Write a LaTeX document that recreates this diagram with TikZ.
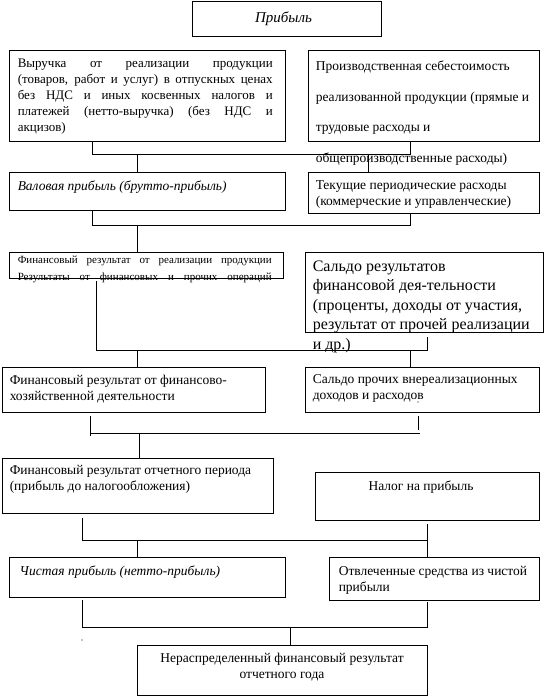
\documentclass[tikz,border=0pt]{standalone}
\usepackage{fontspec}
\setmainfont{Liberation Serif}
\usepackage{tikz}
\usetikzlibrary{positioning,fit}

\newcommand{\jline}[2]{\makebox[#1][s]{#2}}

\begin{document}
\begin{tikzpicture}[x=1pt,y=-1pt,
   blk/.style={draw, line width=0.9pt, inner sep=0pt},
   txt/.style={inner sep=0pt, align=left, font=\fontsize{13.5}{16}\selectfont},
   ln/.style={line width=0.8pt}]
   \useasboundingbox (0,0) rectangle (546,698);

   % boxes
   \node[blk, fit={(192,1) (381,36)}] (prib) {};
   \node[blk, fit={(9,50) (285,141)}] (vyr) {};
   \node[blk, fit={(308,50) (539,141)}] (seb) {};
   \node[blk, fit={(9,172) (285,210)}] (val) {};
   \node[blk, fit={(308,172) (539,213)}] (tek) {};
   \node[blk, fit={(9,252) (283,278)}] (real) {};
   \node[blk, fit={(305,252) (543,332)}] (sald) {};
   \node[blk, fit={(2,367) (265,412)}] (fhd) {};
   \node[blk, fit={(305,367) (539,412)}] (vner) {};
   \node[blk, fit={(2,458) (273,513)}] (otch) {};
   \node[blk, fit={(315,472) (539,520)}] (nalog) {};
   \node[blk, fit={(9,557) (285,597)}] (chist) {};
   \node[blk, fit={(329,557) (539,600)}] (otvl) {};
   \node[blk, fit={(137,645) (427,695)}] (neras) {};

   % texts
   \node[txt, font=\fontsize{15}{16}\selectfont\itshape, xshift=-3pt] (pribt) at (prib.center) {Прибыль};
   \node[txt, font=\fontsize{13}{16}\selectfont, below right=9pt and 9pt of vyr.north west] (vyrt)
   {\jline{255pt}{Выручка от реализации продукции}\\
    \jline{255pt}{(товаров, работ и услуг) в отпускных ценах}\\
    \jline{255pt}{без НДС и иных косвенных налогов и}\\
    \jline{255pt}{платежей (нетто-выручка) (без НДС и}\\
    акцизов)};
   \node[txt, font=\fontsize{13.5}{30.7}\selectfont, below right=11pt and 8pt of seb.north west] (sebt)
   {Производственная себестоимость\\
    реализованной продукции (прямые и\\
    трудовые расходы и\\
    общепроизводственные расходы)};
   \node[txt, font=\fontsize{13.5}{16}\selectfont\itshape, below right=9pt and 9pt of val.north west] (valt)
   {Валовая прибыль (брутто-прибыль)};
   \node[txt, below right=9pt and 8pt of tek.north west] (tekt)
   {Текущие периодические расходы\\
    (коммерческие и управленческие)};
   \node[txt, font=\fontsize{11}{17}\selectfont, below right=4pt and 9pt of real.north west] (realt)
   {\jline{254pt}{Финансовый результат от реализации продукции}\\
    \jline{254pt}{Результаты от финансовых и прочих операций}};
   \node[txt, font=\fontsize{16}{19.5}\selectfont, below right=9pt and 8pt of sald.north west] (saldt)
   {Сальдо результатов\\
    финансовой дея-тельности\\
    (проценты, доходы от участия,\\
    результат от прочей реализации\\
    и др.)};
   \node[txt, below right=8pt and 8pt of fhd.north west] (fhdt)
   {Финансовый результат от финансово-\\
    хозяйственной деятельности};
   \node[txt, below right=8pt and 8pt of vner.north west] (vnert)
   {Сальдо прочих внереализационных\\
    доходов и расходов};
   \node[txt, below right=8pt and 8pt of otch.north west] (otcht)
   {Финансовый результат отчетного периода\\
    (прибыль до налогообложения)};
   \node[txt, below=9pt of nalog.north, xshift=-6pt] (nalogt) {Налог на прибыль};
   \node[txt, font=\fontsize{13.5}{16}\selectfont\itshape, below right=9pt and 11pt of chist.north west] (chistt)
   {Чистая прибыль (нетто-прибыль)};
   \node[txt, below right=10pt and 10pt of otvl.north west] (otvlt)
   {Отвлеченные средства из чистой\\
    прибыли};
   \node[txt, align=center, below=8pt of neras.north] (nerast)
   {Нераспределенный финансовый результат\\
    отчетного года};

   % connectors
   \coordinate (a1) at (92,154);
   \coordinate (a2) at (410,154);
   \coordinate (a3) at (137,154);
   \coordinate (a4) at (368,154);
   \draw[ln] (vyr.south -| a1) -- (a1) -- (a2) -- (seb.south -| a2);
   \draw[ln] (a3) -- (a3 |- val.north);
   \draw[ln] (a4) -- (a4 |- tek.north);

   \coordinate (b1) at (92,225);
   \coordinate (b2) at (410,225);
   \coordinate (b3) at (137,225);
   \draw[ln] (val.south -| b1) -- (b1) -- (b2) -- (tek.south -| b2);
   \draw[ln] (b3) -- (b3 |- real.north);

   \coordinate (c1) at (96,350);
   \coordinate (c2) at (427,350);
   \coordinate (c3) at (137,350);
   \coordinate (c4) at (410,350);
   \draw[ln] ([yshift=-3pt]real.south -| c1) -- (c1) -- (c2) -- ([yshift=-5pt]sald.south -| c2);
   \draw[ln] (c3) -- (c3 |- fhd.north);
   \draw[ln] (c4) -- (c4 |- vner.north);

   \coordinate (d1) at (90,433);
   \coordinate (d2) at (420,433);
   \coordinate (d3) at (139,433);
   \coordinate (d4) at (418,430);
   \draw[ln] (d1) -- (d2);
   \draw[ln] ([yshift=-4pt]fhd.south -| d1) -- ([yshift=-3pt]d1);
   \draw[ln] ([yshift=-4pt]vner.south -| d4) -- (d4);
   \draw[ln] (d3) -- (d3 |- otch.north);
   \fill (418,402) circle (0.6pt);

   \coordinate (e1) at (82,540);
   \coordinate (e2) at (427,540);
   \coordinate (e3) at (137,540);
   \draw[ln] ([yshift=-5pt]otch.south -| e1) -- (e1) -- (e2);
   \draw[ln] ([yshift=-4pt]nalog.south -| e2) -- (e2 |- otvl.north);
   \draw[ln] (e3) -- (e3 |- chist.north);

   \coordinate (f1) at (82,627);
   \coordinate (f2) at (427,627);
   \coordinate (f3) at (290,627);
   \draw[ln] ([yshift=-3pt]chist.south -| f1) -- (f1) -- (f2) -- ([yshift=-2pt]otvl.south -| f2);
   \draw[ln] (f3) -- (f3 |- neras.north);
   \fill (82,640) circle (0.6pt);
\end{tikzpicture}
\end{document}
